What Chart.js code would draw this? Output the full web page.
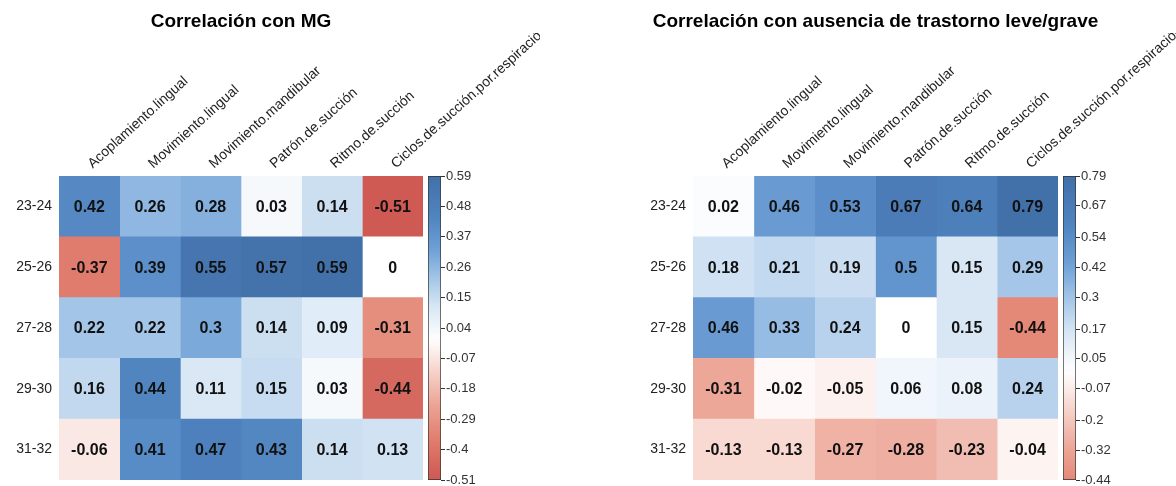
<!DOCTYPE html>
<html>
<head>
<meta charset="utf-8">
<script src="https://cdn.jsdelivr.net/npm/chart.js@4"></script>
<style>
  body { margin: 0; background: #fff; }
  #lienzo { position: relative; width: 1176px; height: 486px; overflow: hidden; }
  canvas { position: absolute; top: 0; display: block; }
</style>
</head>
<body>
<div id="lienzo">
  <canvas id="mapaMG" width="540" height="486" style="left:0px"></canvas>
  <canvas id="barraMG" width="56" height="318" style="left:428px;top:168px"></canvas>
  <canvas id="mapaAus" width="636" height="486" style="left:540px"></canvas>
  <canvas id="barraAus" width="60" height="318" style="left:1063px;top:168px"></canvas>
</div>
<script>
Chart.defaults.font.family = '"Liberation Sans", Arial, Helvetica, sans-serif';
Chart.defaults.color = '#333';

var columnas = ['Acoplamiento.lingual', 'Movimiento.lingual', 'Movimiento.mandibular', 'Patrón.de.succión', 'Ritmo.de.succión', 'Ciclos.de.succión.por.respiración'];
var filas = ['23-24', '25-26', '27-28', '29-30', '31-32'];

// una lista por fila, en el orden de columnas
var corrMG = [
  [0.42, 0.26, 0.28, 0.03, 0.14, -0.51],
  [-0.37, 0.39, 0.55, 0.57, 0.59, 0],
  [0.22, 0.22, 0.3, 0.14, 0.09, -0.31],
  [0.16, 0.44, 0.11, 0.15, 0.03, -0.44],
  [-0.06, 0.41, 0.47, 0.43, 0.14, 0.13]
];
var corrAusencia = [
  [0.02, 0.46, 0.53, 0.67, 0.64, 0.79],
  [0.18, 0.21, 0.19, 0.5, 0.15, 0.29],
  [0.46, 0.33, 0.24, 0, 0.15, -0.44],
  [-0.31, -0.02, -0.05, 0.06, 0.08, 0.24],
  [-0.13, -0.13, -0.27, -0.28, -0.23, -0.04]
];
var marcasMG = [0.59, 0.48, 0.37, 0.26, 0.15, 0.04, -0.07, -0.18, -0.29, -0.4, -0.51];
var marcasAusencia = [0.79, 0.67, 0.54, 0.42, 0.3, 0.17, 0.05, -0.07, -0.2, -0.32, -0.44];

// paleta divergente (t = |v| / max)
var azules = [[0, 255, 255, 255], [0.2, 215, 230, 244], [0.4, 155, 192, 230], [0.55, 110, 160, 214], [0.75, 80, 132, 192], [1, 66, 112, 168]];
var rojos = [[0, 255, 255, 255], [0.2, 246, 210, 202], [0.4, 236, 165, 150], [0.6, 226, 128, 112], [0.8, 210, 96, 88], [1, 198, 78, 74]];

function colorCelda(v, maxAbs) {
  var t = Math.min(Math.abs(v) / maxAbs, 1);
  var paleta = v < 0 ? rojos : azules;
  for (var i = 1; i < paleta.length; i++) {
    if (t <= paleta[i][0]) {
      var a = paleta[i - 1], b = paleta[i];
      var f = (t - a[0]) / (b[0] - a[0]);
      return 'rgb(' + [1, 2, 3].map(function(k) { return Math.round(a[k] + (b[k] - a[k]) * f); }).join(',') + ')';
    }
  }
  return 'rgb(' + paleta[paleta.length - 1].slice(1).join(',') + ')';
}

function maxAbsoluto(valores) {
  return Math.max.apply(null, valores.flat().map(Math.abs));
}

function crearMapa(id, titulo, valores, padIzq, padDer) {
  var maxAbs = maxAbsoluto(valores);
  var datasets = columnas.map(function(col, c) {
    return {
      label: col,
      data: filas.map(function() { return [c, c + 1]; }),
      backgroundColor: filas.map(function(f, r) { return colorCelda(valores[r][c], maxAbs); }),
      borderWidth: 0,
      barPercentage: 1,
      categoryPercentage: 1,
      grouped: false
    };
  });

  // numeros dentro de las celdas + titulo centrado sobre el panel
  var textoCeldas = {
    id: 'textoCeldas',
    afterDatasetsDraw: function(chart) {
      var ctx = chart.ctx;
      var area = chart.chartArea;
      ctx.save();
      ctx.font = 'bold 16px "Liberation Sans", Arial, sans-serif';
      ctx.fillStyle = '#111';
      ctx.textAlign = 'center';
      ctx.textBaseline = 'middle';
      chart.data.datasets.forEach(function(ds, c) {
        chart.getDatasetMeta(c).data.forEach(function(barra, r) {
          var p = barra.getCenterPoint();
          ctx.fillText(String(valores[r][c]), p.x, p.y + 1);
        });
      });
      ctx.font = 'bold 19px "Liberation Sans", Arial, sans-serif';
      ctx.fillStyle = '#000';
      ctx.fillText(titulo, (area.left + area.right) / 2, 22);
      ctx.restore();
    }
  };

  return new Chart(document.getElementById(id), {
    type: 'bar',
    data: { labels: filas, datasets: datasets },
    options: {
      indexAxis: 'y',
      responsive: false,
      animation: false,
      layout: { padding: { left: padIzq, right: padDer, top: 33, bottom: 6 } },
      plugins: {
        legend: { display: false },
        tooltip: { enabled: false },
        title: { display: false }
      },
      scales: {
        x: { type: 'linear', min: 0, max: columnas.length, display: false },
        x2: {
          type: 'category',
          labels: columnas,
          position: 'top',
          offset: true,
          grid: { display: false, drawTicks: false },
          border: { display: false },
          ticks: { autoSkip: false, minRotation: 42, maxRotation: 42, padding: 4, labelOffset: 12, color: '#222', font: { size: 14 } },
          afterFit: function(s) {
            s.height = 143;
            s.paddingLeft = 0;
            s.paddingRight = 0;
          }
        },
        y: {
          grid: { display: false, drawTicks: false },
          border: { display: false },
          ticks: { padding: 7, color: '#222', font: { size: 14 } },
          afterFit: function(s) {
            s.width = 59;
            s.paddingTop = 0;
            s.paddingBottom = 0;
          }
        }
      }
    },
    plugins: [textoCeldas]
  });
}

function crearBarra(id, valores, marcas, anchoEje) {
  var maxAbs = maxAbsoluto(valores);
  var minimo = Math.min.apply(null, marcas);
  var maximo = Math.max.apply(null, marcas);
  return new Chart(document.getElementById(id), {
    type: 'bar',
    data: {
      labels: ['escala'],
      datasets: [{
        data: [[minimo, maximo]],
        backgroundColor: function(context) {
          var chart = context.chart;
          if (!chart.chartArea) return '#fff';
          var esc = chart.scales.y;
          var g = chart.ctx.createLinearGradient(0, esc.getPixelForValue(minimo), 0, esc.getPixelForValue(maximo));
          for (var i = 0; i <= 40; i++) {
            g.addColorStop(i / 40, colorCelda(minimo + (maximo - minimo) * i / 40, maxAbs));
          }
          return g;
        },
        borderColor: '#333',
        borderWidth: 1,
        borderSkipped: false,
        barPercentage: 1,
        categoryPercentage: 1
      }]
    },
    options: {
      responsive: false,
      animation: false,
      layout: { padding: { top: 8, bottom: 6, left: 0, right: 0 } },
      plugins: { legend: { display: false }, tooltip: { enabled: false } },
      scales: {
        x: { display: false },
        y: {
          position: 'right',
          min: minimo,
          max: maximo,
          afterBuildTicks: function(s) {
            s.ticks = marcas.map(function(v) { return { value: v }; });
          },
          afterFit: function(s) {
            s.width = anchoEje;
            s.paddingTop = 0;
            s.paddingBottom = 0;
          },
          grid: { drawOnChartArea: false, drawTicks: true, tickLength: 4, color: '#333' },
          border: { display: false },
          ticks: {
            padding: 1,
            color: '#333',
            font: { size: 13 },
            callback: function(v) { return String(v); }
          }
        }
      }
    }
  });
}

crearMapa('mapaMG', 'Correlación con MG', corrMG, 0, 117);
crearMapa('mapaAus', 'Correlación con ausencia de trastorno leve/grave', corrAusencia, 94, 118);
crearBarra('barraMG', corrMG, marcasMG, 43);
crearBarra('barraAus', corrAusencia, marcasAusencia, 47);
</script>
</body>
</html>
